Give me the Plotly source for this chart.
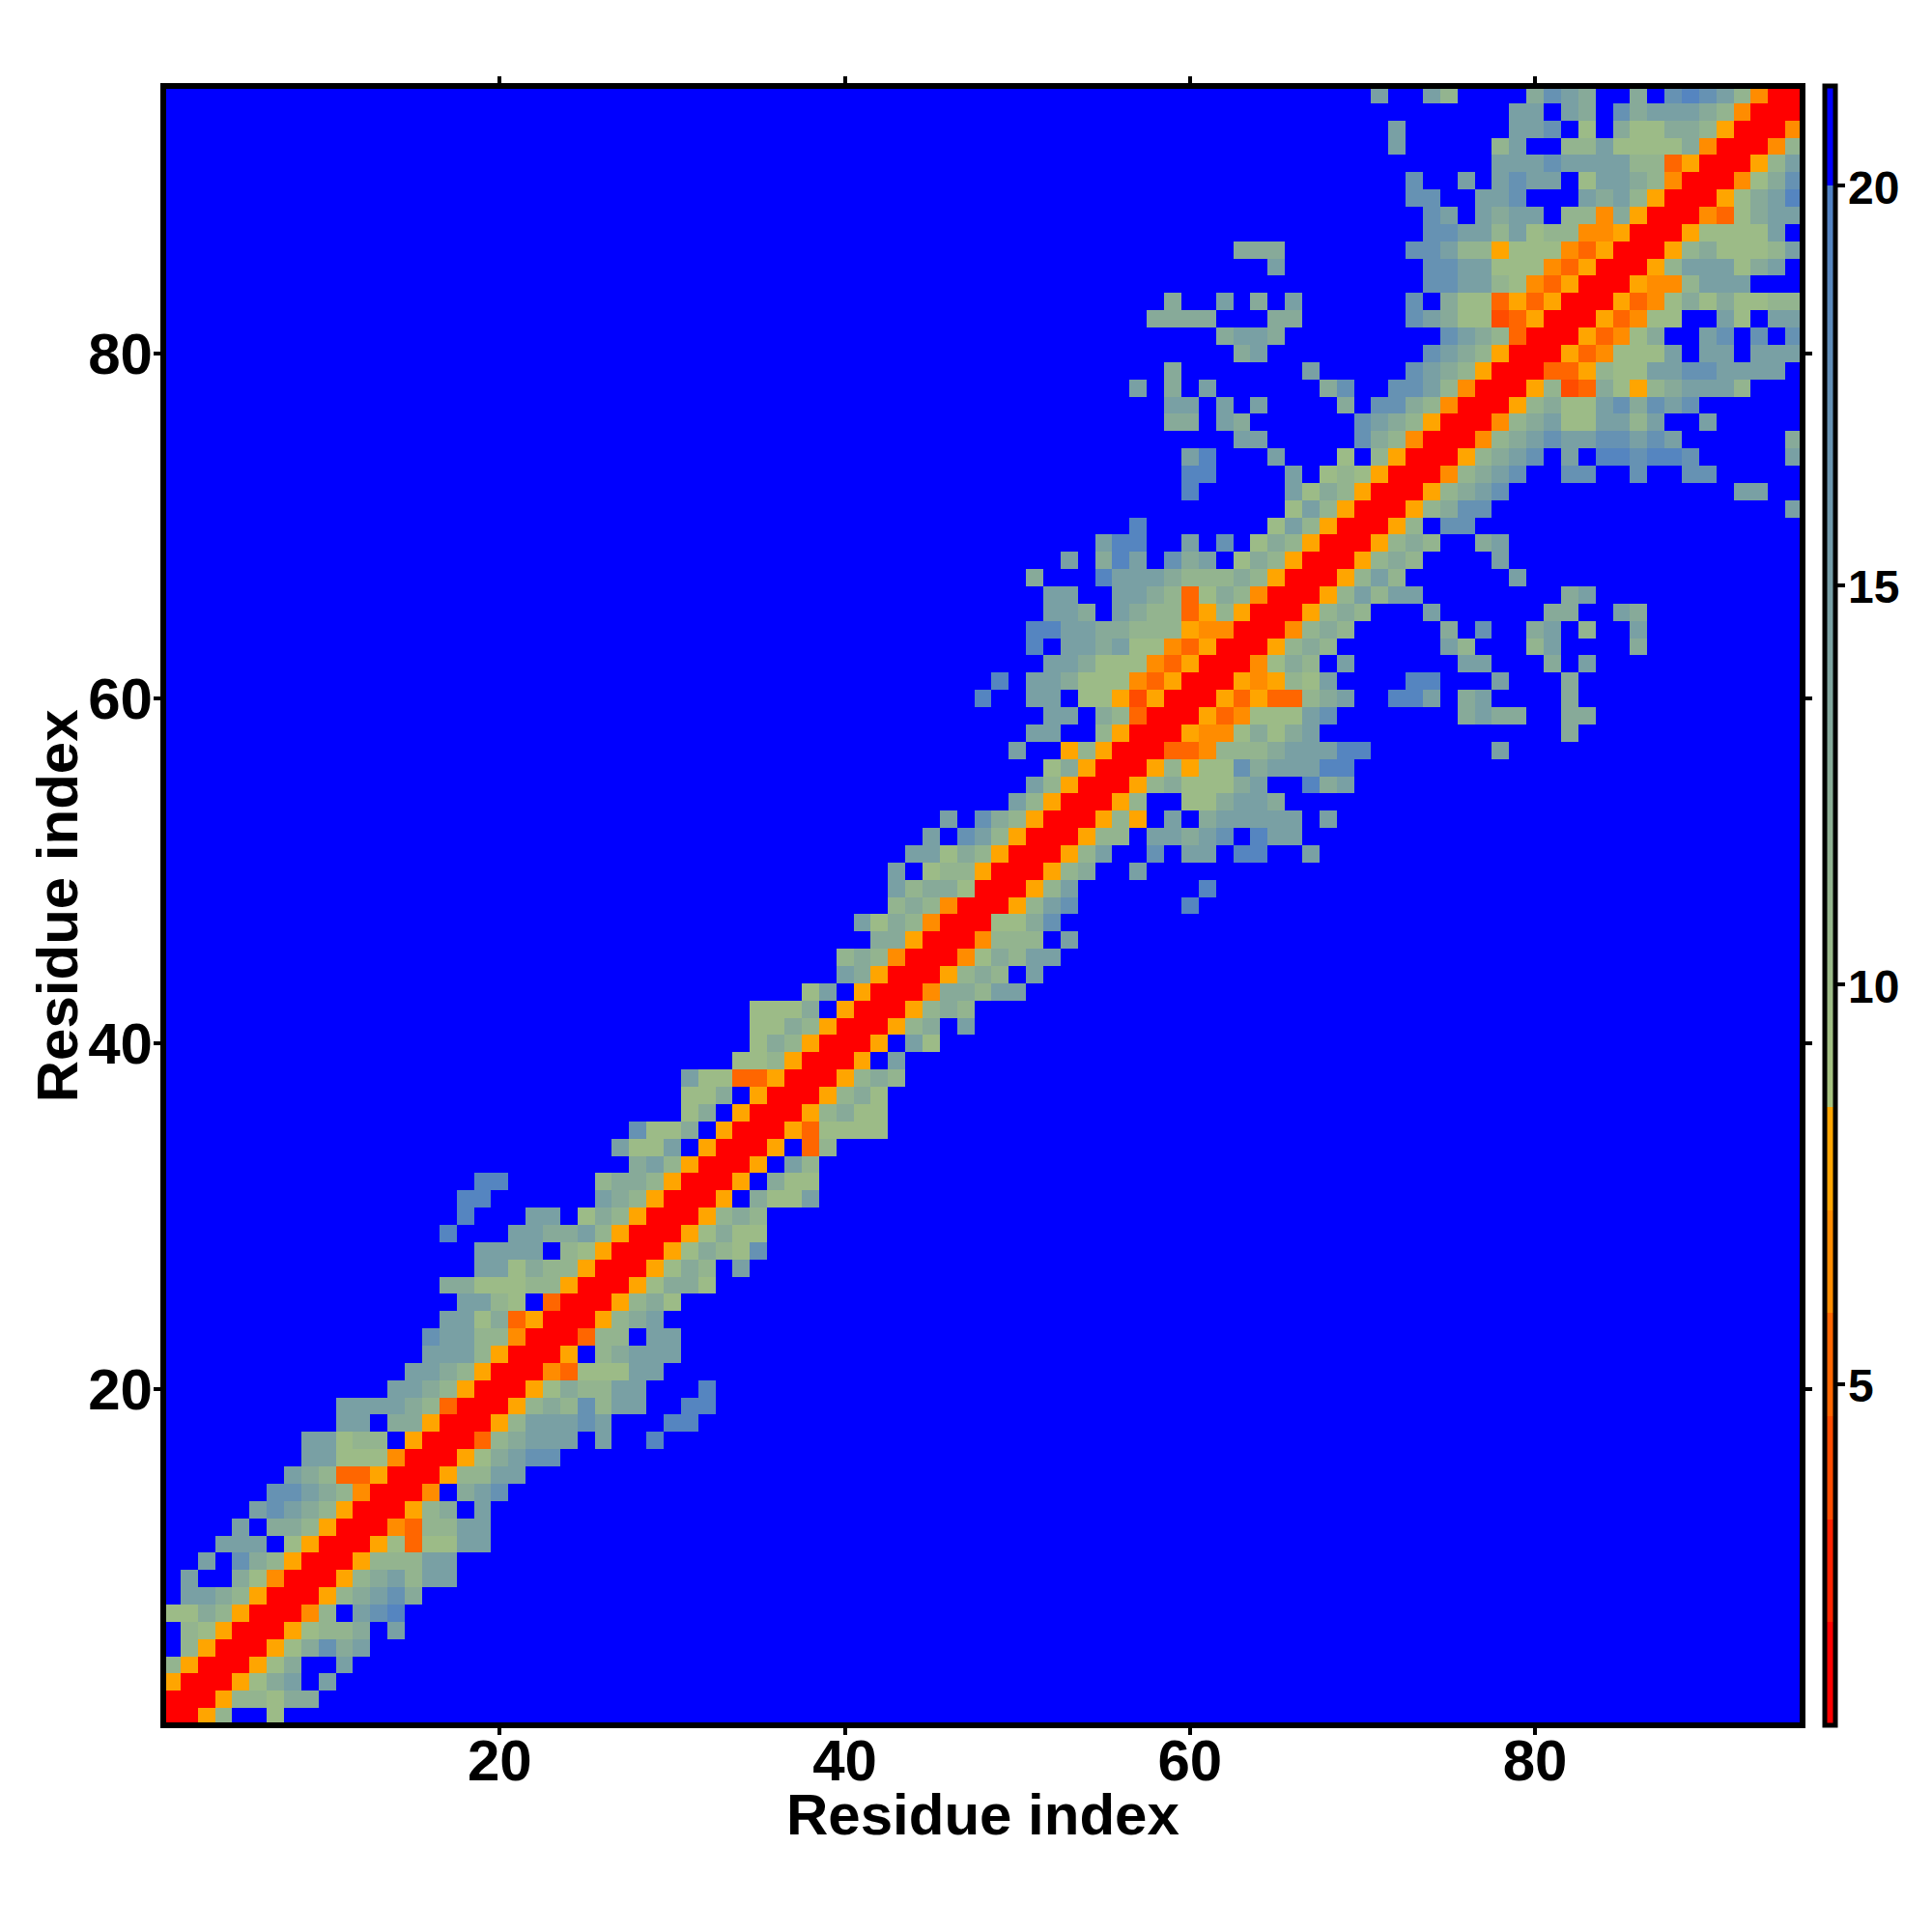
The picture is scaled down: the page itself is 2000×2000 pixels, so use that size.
import plotly.graph_objects as go

n_residues = 95
tick_vals = [20, 40, 60, 80]
cbar_ticks = [5, 10, 15, 20]
axis_title = "Residue index"

# distance per level code
level_value = {".": 20.6, "R": 1.4, "d": 3.9, "c": 5.2, "b": 6.5, "a": 7.8,
               "g": 10.0, "h": 11.2, "i": 12.8, "j": 14.6, "k": 17.0, "l": 19.2}

# first column of each row (row 1 first) and the cell levels from there on
row_start = [1, 1, 1, 1, 2, 2, 1, 2, 2, 3,
             4, 5, 6, 7, 8, 9, 9, 11, 11, 14,
             15, 16, 16, 17, 18, 17, 19, 19, 17, 18,
             18, 19, 28, 27, 28, 31, 31, 31, 34, 35,
             35, 35, 38, 40, 40, 42, 41, 43, 43, 43,
             44, 45, 46, 50, 51, 52, 50, 51, 52, 48,
             49, 52, 51, 51, 52, 52, 51, 53, 55, 57,
             66, 60, 60, 60, 63, 59, 59, 57, 59, 63,
             62, 58, 59, 74, 65, 63, 74, 74, 73, 73,
             78, 72, 72, 79, 71]
row_cells = [
    "RRah..g", "RRRahhgii", "aRRRagij.j", "haRRRagi..j", "haRRRagikij",
    "hgaRRRaghhi.j", "ggihaRRRbh.jkl", "jjihaRRRahijki", "j..igbRRRahijhjj", "j.kihaRRRahhhjj",
    "jjj.gaRRRagcggjj", "j.iihaRRRbchhjj", "jkjihaRRRahi.j", "kkjihbRRRb.ijk", "jihccaRRRahhjj",
    "jjgggbRRRagijkk", "jjghh.aRRRchijjj.j..l", "jj.iiaRRRahjjjkj...ll", "jjjjihcRRRahihkhjj..ll", "jjihaRRRagihhjj...l",
    "jjihaRRRbcgggjj", "jjjhaRRRa.hijjj", "kjjhhbRRRchh.jj", "jjgicaRRRahij", "jjhg.cRRRahig",
    "iiggghhaRRRagiig", "jjgihhaRRRagih.j", "jjjj.hgaRRRagihgk", "l...jjiijhaRRRagigg", "l...jj.gihaRRRahih",
    "ll......jihaRRRa.iggj", "ll.....hiihaRRRa.igg", "ijhaRRRa.jh", "jggj.aRRRa.ch", "kggi.aRRRacgggg",
    "gi.aRRRahigg", "ggi.aRRRahig", "jggccaRRRahih", "gghaRRRa.j", "gihaRRRa.jg",
    "ggihaRRRahi.j", "gggi.aRRRahih", "gj.aRRRbiihjj", "jiaRRRahih.j", "hihbRRRbgihjj",
    "iiaRRRbhhh.j", "jgihbRRRggik", "hihbRRRahjk......l", "jhiigRRRahj.......l", "j.ghhaRRRahi..j",
    "jjgihaRRRahj..k.jj.ll..j", "j.kjhaRRRahh.jjijk.ljj", "j.kihaRRRaha.j.ijjjjj.j", "jhaRRRah..ggijji", "jhaRRRahigggij..lij",
    "giaRRRahaggkijjjll", "j..ahaRRRccbhhhijjjll.......j", "jj..haRRRabbgigij..............i",
    "jj.ihcRRRacbgggjk.......ijii..ii", "l..jj.ggadaRRRacacchij..llj.ij....i",
    "l.jjigggbcaRRRabahgj....ll...j...i", "jjigggbcaRRRbgih.j......jj...i.j", "l.jjijggbcaRRRahih......jh...hj....i",
    "lljjiihhhabbRRRbhih.....i.k..ij.h..j", "jji.jihhcahaRRRahih...j......ii..ji",
    "jj..jjihcgihbRRRahjhjj........ij", "i...ljjjihhhihaRRRahjh......j", "j.ilj.kij.gihaRRRahih....j",
    "jll..j.k.gihaRRRahih..ij", "l.......gjhaRRRah.kk",
    "gjhaRRRahikk.................j", "l.....jgihaRRRahijk.............jj", "ll....j.ghgaRRRbhijk..kk..k..kk",
    "jl...j...g.haRRRahijk.j.llkllk.....j", "jj.....kihbRRRbhijkjjkkjkj......i",
    "ii.ji......kjihaRRRbhijggjjhj..j", "jj.j.j....i.kkihbRRRahiggjkikjk", "j.i.j......ik..kkjhbRRRahdcigahijjjh",
    "i.......j.....kjihaRRRccahggjjkkjjjj", "ij.........kjihaRRRacbgggj.jj.jjj",
    "ijji.........kjihcRRRacbgi..jk.k.k", "iiii...ii......kjiggdcaRRRacbgg..jg.jj", "i..j.i.j......k.iggcacaRRRacbgigigghh",
    "kkjjhgbcaRRRabbhjjj", "j........kkjjgggbcaRRRahjjjgij",
    "iii.......kkjhhagggbcaRRRahiggghj", "kkjjhjghhbbaRRRaggggj", "kj.jijj.hhbiaRRRbcgijj",
    "kk..jjk...jijhaRRRagijl", "k..j.jkjj.gjjihbRRRbgik",
    "jjjkjjjjhhcaRRRahj", "j.....hj..hhjggggibRRRbh", "j......jjk.g.iggiihaRRRb",
    "jj.ji.kijjjihbRRR", "j..jh....ikji..i.klkjhbRR",
]

# colour bar: bounds and colours
z_min, z_max = 0.73, 21.25
step_bounds = [0.73, 2.02, 3.31, 4.60, 5.89, 7.18, 8.47]
step_colors = ["#ff0000", "#ff2200", "#ff4c00", "#ff6600", "#ff8c00", "#ffa500"]
ramp_low, ramp_high, ramp_end = "#a8c47e", "#4f80c5", 20.0
over_color = "#0000ff"


def norm(v):
    return (v - z_min) / (z_max - z_min)


scale = []
for i, col in enumerate(step_colors):
    scale += [[norm(step_bounds[i]), col], [norm(step_bounds[i + 1]), col]]
scale += [[norm(step_bounds[-1]) + 1e-6, ramp_low], [norm(ramp_end), ramp_high],
          [norm(ramp_end) + 1e-6, over_color], [1.0, over_color]]

z = []
for start, cells in zip(row_start, row_cells):
    row = [level_value["."]] * n_residues
    for offset, code in enumerate(cells):
        row[start - 1 + offset] = level_value[code]
    z.append(row)

axis_nums = list(range(1, n_residues + 1))
font = "Liberation Sans"
bold_big = dict(family=font, size=60, color="black", weight="bold")
bold_small = dict(family=font, size=48, color="black", weight="bold")

fig = go.Figure(go.Heatmap(
    x=axis_nums, y=axis_nums, z=z, zmin=z_min, zmax=z_max, colorscale=scale,
    hoverongaps=False,
    colorbar=dict(
        x=1.01356, xanchor="left", xpad=0, y=0.5, yanchor="middle", ypad=0,
        len=1, lenmode="fraction", thickness=11, thicknessmode="pixels",
        outlinecolor="black", outlinewidth=5,
        tickmode="array", tickvals=cbar_ticks, ticks="outside", ticklen=8,
        tickwidth=4, tickcolor="black", showticklabels=False,
    ),
))

axis_common = dict(
    range=[0.5, n_residues + 0.5], tickmode="array", tickvals=tick_vals,
    ticks="outside", ticklen=9, tickwidth=4, tickcolor="black",
    showline=False, mirror="ticks",
    showgrid=False, zeroline=False,
    tickfont=bold_big,
)
fig.update_xaxes(**axis_common, ticklabelstandoff=-25)
fig.update_yaxes(**axis_common, ticklabelstandoff=-11)

# axis titles placed as text relative to the plot box
fig.add_annotation(text=axis_title, xref="paper", yref="paper", x=0.5, y=-0.0545,
                   xanchor="center", yanchor="middle", showarrow=False, font=bold_big)
fig.add_annotation(text=axis_title, xref="paper", yref="paper", x=-0.0644, y=0.5,
                   xanchor="center", yanchor="middle", showarrow=False, textangle=-90,
                   font=bold_big)

# colour-bar tick labels, positioned from their values
for v in cbar_ticks:
    fig.add_annotation(text=str(v), xref="paper", yref="paper", x=1.0268, y=norm(v),
                       xanchor="left", yanchor="middle", yshift=-2, showarrow=False,
                       font=bold_small)

# frame drawn centred on the plot edge, over the cells
fig.add_shape(type="rect", xref="paper", yref="paper", x0=0, y0=0, x1=1, y1=1,
              line=dict(color="black", width=6), layer="above")

fig.update_layout(
    width=1984, height=1984, autosize=False,
    margin=dict(l=161.3, r=125.5, t=81.3, b=205.5, pad=0, autoexpand=False),
    paper_bgcolor="white", plot_bgcolor="white",
)
fig.write_html("out.html")
